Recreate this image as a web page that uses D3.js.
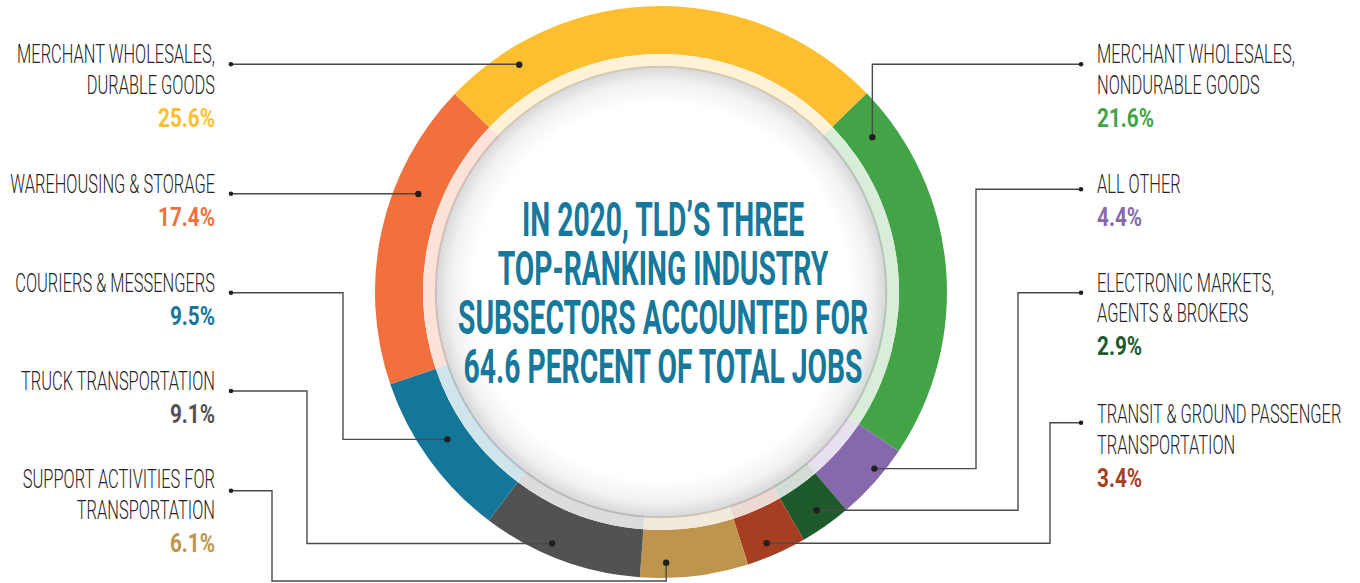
<!DOCTYPE html>
<html>
<head>
<meta charset="utf-8">
<script src="https://cdn.jsdelivr.net/npm/d3@7"></script>
<style>
  html, body { margin: 0; padding: 0; background: #ffffff; }
  svg { display: block; }
  .lbl { font-family: Roboto, "Liberation Sans", "DejaVu Sans", sans-serif; }
</style>
</head>
<body>
<svg id="chart" width="1360" height="583"></svg>
<script>
// TLD employment by industry subsector, 2020 (share of total jobs, %)
const sectors = [
  "MERCHANT WHOLESALES, NONDURABLE GOODS",
  "ALL OTHER",
  "ELECTRONIC MARKETS, AGENTS & BROKERS",
  "TRANSIT & GROUND PASSENGER TRANSPORTATION",
  "SUPPORT ACTIVITIES FOR TRANSPORTATION",
  "TRUCK TRANSPORTATION",
  "COURIERS & MESSENGERS",
  "WAREHOUSING & STORAGE",
  "MERCHANT WHOLESALES, DURABLE GOODS"
];
const shares = [21.6, 4.4, 2.9, 3.4, 6.1, 9.1, 9.5, 17.4, 25.6];
const sectorColors = ["#43a447", "#8669ad", "#1e5a2c", "#a63f22", "#bf944c",
                      "#515251", "#147799", "#f1703c", "#fdbf30"];
// how each sector name is broken over lines in its callout
const labelLines = [
  ["MERCHANT WHOLESALES,", "NONDURABLE GOODS"],
  ["ALL OTHER"],
  ["ELECTRONIC MARKETS,", "AGENTS & BROKERS"],
  ["TRANSIT & GROUND PASSENGER", "TRANSPORTATION"],
  ["SUPPORT ACTIVITIES FOR", "TRANSPORTATION"],
  ["TRUCK TRANSPORTATION"],
  ["COURIERS & MESSENGERS"],
  ["WAREHOUSING & STORAGE"],
  ["MERCHANT WHOLESALES,", "DURABLE GOODS"]
];
const headline = [
  "IN 2020, TLD\u2019S THREE",
  "TOP-RANKING INDUSTRY",
  "SUBSECTORS ACCOUNTED FOR",
  "64.6 PERCENT OF TOTAL JOBS"
];

// ---- layout ----
const cx = 661, cy = 292;
const rOuter = 286, rBand = 238, rDisk = 224;
const startDeg = 46;
const leftX = 215, rightX = 1097, leftDotX = 231, rightDotX = 1081;
// condensed lettering: widths the reference strings should occupy
const labelFont = { size: 25, weight: 300, ref: "MERCHANT WHOLESALES,", width: 198 };
const pctFont   = { size: 26, weight: 700, ref: "25.6%", width: 57 };
const headFont  = { size: 49, weight: 700, ref: "SUBSECTORS ACCOUNTED FOR", width: 410 };
// callout placement: side, first baseline, leader y, position inside slice (0-1),
// radius of the leader dot, optional elbow x / y
const callouts = [
  { side: "R", base: 63.3,  ly: 64.3,  f: 0.10,  r: 262 },
  { side: "R", base: 193.3, ly: 189.3, f: 0.369, r: 277,   ex: 976 },
  { side: "R", base: 291.7, ly: 292.7, f: 0.47,  r: 268,   ex: 1018 },
  { side: "R", base: 423.3, ly: 422.7, f: 0.585, r: 272.6, ex: 1050 },
  { side: "L", base: 488.3, ly: 490.7, f: 0.757, r: 270.7, ex: 272, ey: 581 },
  { side: "L", base: 390,   ly: 391,   f: 0.585, r: 274,   ex: 307 },
  { side: "L", base: 291.7, ly: 292.7, f: 0.538, r: 259.5, ex: 343 },
  { side: "L", base: 193.3, ly: 193.7, f: 0.651, r: 261.7 },
  { side: "L", base: 63.3,  ly: 64.3,  f: 0.154, r: 267.8 }
];

const svg = d3.select("#chart");
const defs = svg.append("defs");

// horizontal squeeze factor so a font renders as a condensed face
function squeeze(font) {
  const t = svg.append("text").attr("class", "lbl")
    .attr("font-size", font.size).attr("font-weight", font.weight).text(font.ref);
  const w = t.node().getComputedTextLength();
  t.remove();
  return font.width / w;
}
const labelScale = squeeze(labelFont);
const pctScale = squeeze(pctFont);
const headScale = squeeze(headFont);

const diskGrad = defs.append("radialGradient").attr("id", "diskGrad");
diskGrad.append("stop").attr("offset", "0%").attr("stop-color", "#ffffff");
diskGrad.append("stop").attr("offset", "84%").attr("stop-color", "#ffffff");
diskGrad.append("stop").attr("offset", "94%").attr("stop-color", "#f1f1f2");
diskGrad.append("stop").attr("offset", "100%").attr("stop-color", "#dadadc");

const pie = d3.pie().sort(null).value(d => d)
  .startAngle(startDeg * Math.PI / 180)
  .endAngle(startDeg * Math.PI / 180 + 2 * Math.PI);
const slices = pie(shares);

const ring = svg.append("g").attr("transform", `translate(${cx},${cy})`);

// main coloured band
ring.selectAll("path.band").data(slices).join("path")
  .attr("class", "band")
  .attr("d", d3.arc().innerRadius(rBand).outerRadius(rOuter))
  .attr("fill", (d, i) => sectorColors[i]);

// pale inner band in tinted slice colours
ring.selectAll("path.tint").data(slices).join("path")
  .attr("class", "tint")
  .attr("d", d3.arc().innerRadius(rDisk).outerRadius(rBand))
  .attr("fill", (d, i) => d3.interpolateRgb(sectorColors[i], "#ffffff")(0.8));

// central white disk with soft rim
ring.append("circle").attr("r", rDisk + 1)
  .attr("fill", "none").attr("stroke", "rgba(110,110,110,0.3)").attr("stroke-width", 2.5);
ring.append("circle").attr("r", rDisk).attr("fill", "url(#diskGrad)");

// headline in the centre, one text block with a line per tspan
const head = svg.append("g")
  .attr("transform", `translate(${cx + 2},0) scale(${headScale},1)`)
  .append("text")
  .attr("class", "lbl")
  .attr("text-anchor", "middle")
  .attr("font-size", headFont.size)
  .attr("font-weight", headFont.weight)
  .attr("fill", "#16789a");
head.selectAll("tspan").data(headline).join("tspan")
  .attr("x", 0)
  .attr("y", (d, i) => 236 + i * 49)
  .text(d => d);

// leader lines and dots
const toXY = (a, r) => [cx + r * Math.sin(a), cy - r * Math.cos(a)];
const leaders = svg.append("g");
slices.forEach((s, i) => {
  const c = callouts[i];
  const a = s.startAngle + c.f * (s.endAngle - s.startAngle);
  const [dx, dy] = toXY(a, c.r);
  const lx = c.side === "L" ? leftDotX : rightDotX;
  const ex = c.ex !== undefined ? c.ex : dx;
  const ey = c.ey !== undefined ? c.ey : dy;
  const pts = [[lx, c.ly], [ex, c.ly], [ex, ey], [dx, ey], [dx, dy]];
  leaders.append("path")
    .attr("d", d3.line()(pts))
    .attr("fill", "none")
    .attr("stroke", "#4a4a4a")
    .attr("stroke-width", 1.4);
  leaders.append("circle").attr("cx", lx).attr("cy", c.ly).attr("r", 2.3).attr("fill", "#231f20");
  leaders.append("circle").attr("cx", dx).attr("cy", dy).attr("r", 3.2).attr("fill", "#231f20");
});

// sector labels
slices.forEach((s, i) => {
  const c = callouts[i];
  const x = c.side === "L" ? leftX : rightX;
  const anchor = c.side === "L" ? "end" : "start";
  const g = svg.append("g")
    .attr("transform", `translate(${x},${c.base}) scale(${labelScale},1)`);
  labelLines[i].forEach((line, k) => {
    g.append("text").attr("class", "lbl")
      .attr("x", 0).attr("y", k * 30.5)
      .attr("text-anchor", anchor)
      .attr("font-size", labelFont.size)
      .attr("font-weight", labelFont.weight)
      .attr("fill", "#262324")
      .text(line);
  });
  svg.append("g")
    .attr("transform", `translate(${x},${c.base + (labelLines[i].length - 1) * 30.5 + 33}) scale(${pctScale},1)`)
    .append("text").attr("class", "lbl")
    .attr("text-anchor", anchor)
    .attr("font-size", pctFont.size)
    .attr("font-weight", pctFont.weight)
    .attr("fill", sectorColors[i])
    .text(d3.format(".1f")(s.data) + "%");
});
</script>
</body>
</html>
